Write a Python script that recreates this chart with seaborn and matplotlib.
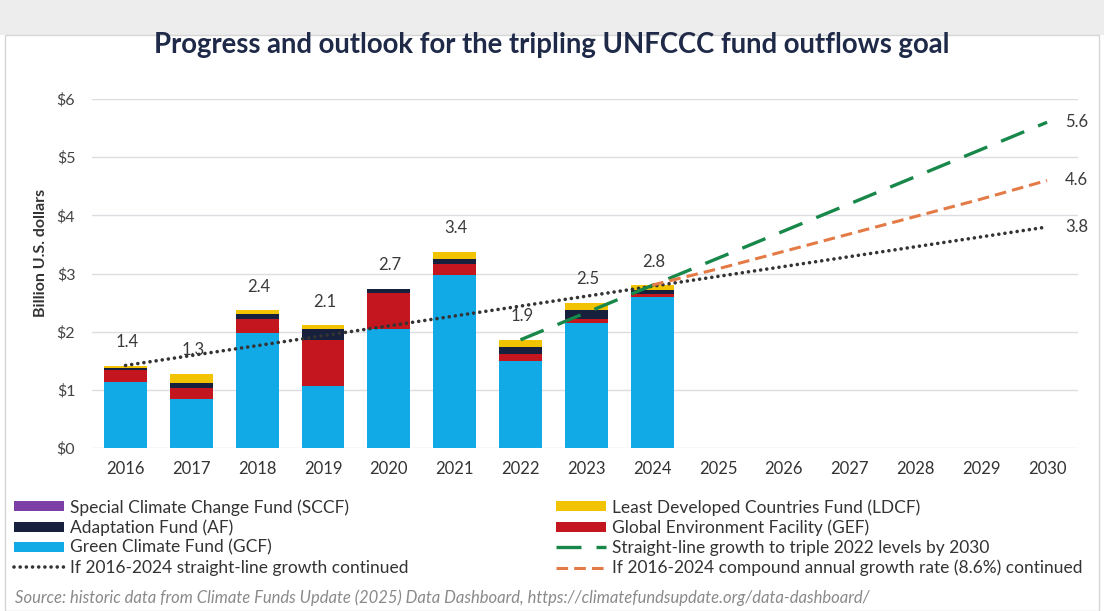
import numpy as np
import pandas as pd
import matplotlib.pyplot as plt
from matplotlib.patches import Patch, Rectangle
from matplotlib.lines import Line2D
import seaborn as sns

sns.set_theme(style="whitegrid")
plt.rcParams['font.family'] = ['Lato', 'DejaVu Sans']

# yearly outflows by fund, billion USD
years = [2016, 2017, 2018, 2019, 2020, 2021, 2022, 2023, 2024]
gcf = [1.14, 0.85, 1.97, 1.07, 2.05, 2.97, 1.50, 2.15, 2.60]
gef = [0.20, 0.18, 0.25, 0.79, 0.61, 0.20, 0.12, 0.07, 0.04]
af = [0.04, 0.09, 0.08, 0.19, 0.07, 0.08, 0.12, 0.15, 0.07]
ldcf = [0.03, 0.16, 0.07, 0.06, 0.01, 0.12, 0.12, 0.13, 0.09]
sccf = [0.00, 0.00, 0.00, 0.00, 0.00, 0.00, 0.00, 0.00, 0.00]
totals = ["1.4", "1.3", "2.4", "2.1", "2.7", "3.4", "1.9", "2.5", "2.8"]

# projections
linear_years = [2016, 2030]
linear_vals = [1.42, 3.80]
triple_years = [2022, 2030]
triple_vals = [1.86, 5.60]
cagr_years = [2024, 2025, 2026, 2027, 2028, 2029, 2030]
cagr_vals = [2.80, 3.08, 3.38, 3.68, 3.98, 4.28, 4.60]
end_labels = ["5.6", "4.6", "3.8"]

tick_years = list(range(2016, 2031))
tick_labels = ["$0", "$1", "$2", "$3", "$4", "$5", "$6"]

funds = ["Special Climate Change Fund (SCCF)", "Least Developed Countries Fund (LDCF)",
         "Adaptation Fund (AF)", "Global Environment Facility (GEF)", "Green Climate Fund (GCF)"]
colors = {funds[0]: "#7b3fa6", funds[1]: "#f2c300", funds[2]: "#17203d",
          funds[3]: "#c3161f", funds[4]: "#11a9e6"}
green = "#17874a"
orange = "#e47b46"
dotc = "#333333"

df = pd.DataFrame({
    "year": years * 5,
    "fund": [funds[0]] * 9 + [funds[1]] * 9 + [funds[2]] * 9 + [funds[3]] * 9 + [funds[4]] * 9,
    "value": sccf + ldcf + af + gef + gcf,
})

fig = plt.figure(figsize=(11.04, 6.11), dpi=100)
fig.patch.set_facecolor("white")
fig.patches.append(Rectangle((0, 1 - 35 / 611), 1, 35 / 611, transform=fig.transFigure,
                             facecolor="#ededed", edgecolor="none", zorder=-2))
fig.patches.append(Rectangle((5 / 1104, 0), 1094 / 1104, 1 - 35 / 611, transform=fig.transFigure,
                             facecolor="white", edgecolor="#d6d6d6", lw=1, zorder=-1))

ax = fig.add_axes([92 / 1104, 1 - 448 / 611, 986 / 1104, 349 / 611])
ax.set_zorder(1)
ax.set_facecolor("none")

sns.histplot(data=df, x="year", weights="value", hue="fund", hue_order=funds,
             multiple="stack", discrete=True, shrink=0.65, palette=colors,
             alpha=1, edgecolor="none", linewidth=0, legend=False, ax=ax, zorder=2)

sns.lineplot(x=linear_years, y=linear_vals, color=dotc, lw=2.6,
             linestyle=(0, (0.01, 1.7)), dash_capstyle="round", ax=ax, zorder=4)
sns.lineplot(x=triple_years, y=triple_vals, color=green, lw=2.4,
             linestyle=(0, (7.5, 4.5)), ax=ax, zorder=5)
sns.lineplot(x=cagr_years, y=cagr_vals, color=orange, lw=2.2,
             linestyle=(0, (3.8, 2.0)), ax=ax, zorder=5)

stack_top = np.array(gcf) + np.array(gef) + np.array(af) + np.array(ldcf) + np.array(sccf)
for yr, top, lab in zip(years, stack_top, totals):
    ax.annotate(lab, (yr, top), xytext=(1, 17), textcoords="offset points",
                ha="center", va="center", fontsize=12, color="#3a3a3a", zorder=6)

for val, lab in zip([triple_vals[-1], cagr_vals[-1], linear_vals[-1]], end_labels):
    ax.annotate(lab, (2030, val), xytext=(13, 0), textcoords="offset points",
                ha="left", va="center", fontsize=12, color="#3a3a3a",
                annotation_clip=False)

ax.set_xlim(2015.49, 2030.47)
ax.set_ylim(0, 6)
ax.set_xticks(tick_years)
ax.set_xticklabels([str(y) for y in tick_years], fontsize=12, color="#333333")
ax.set_yticks(range(7))
ax.set_yticklabels(tick_labels, fontsize=11.5, color="#444444")
ax.tick_params(axis="x", pad=9, length=0)
ax.tick_params(axis="y", pad=12, length=0)
ax.grid(axis="x", visible=False)
ax.grid(axis="y", color="#dcdce2", lw=1)
ax.set_axisbelow(True)
for s in ax.spines.values():
    s.set_visible(False)
ax.set_xlabel("")
ax.set_ylabel("Billion U.S. dollars", fontsize=11.5, fontweight="bold", color="#333333")
ax.yaxis.set_label_coords(-0.045, 0.56)

fig.text(0.5, 1 - 45 / 611, "Progress and outlook for the tripling UNFCCC fund outflows goal",
         ha="center", va="center", fontsize=19.8, fontweight="bold", color="#1f2a48")

def patch(c):
    return Patch(facecolor=c, edgecolor="none")

left_handles = [patch(colors[funds[0]]), patch(colors[funds[2]]), patch(colors[funds[4]]),
                Line2D([], [], color=dotc, lw=2.6, linestyle=(0, (0.01, 1.7)), dash_capstyle="round")]
left_labels = [funds[0], funds[2], funds[4], "If 2016-2024 straight-line growth continued"]
right_handles = [patch(colors[funds[1]]), patch(colors[funds[3]]),
                 Line2D([], [], color=green, lw=2.4, linestyle=(0, (7.5, 4.5))),
                 Line2D([], [], color=orange, lw=2.2, linestyle=(0, (3.8, 2.0)))]
right_labels = [funds[1], funds[3], "Straight-line growth to triple 2022 levels by 2030",
                "If 2016-2024 compound annual growth rate (8.6%) continued"]

leg_kw = dict(loc="upper left", frameon=False, borderpad=0, borderaxespad=0,
              fontsize=12.5, handlelength=2.9, handleheight=0.5, handletextpad=0.3,
              labelspacing=0.22, labelcolor="#333333")
fig.legend(left_handles, left_labels, bbox_to_anchor=(14 / 1104, 1 - 499 / 611), **leg_kw)
fig.legend(right_handles, right_labels, bbox_to_anchor=(556 / 1104, 1 - 499 / 611), **leg_kw)

fig.text(15 / 1104, 1 - 598 / 611,
         "Source: historic data from Climate Funds Update (2025) Data Dashboard, "
         "https://climatefundsupdate.org/data-dashboard/",
         ha="left", va="center", fontsize=12, style="italic", color="#8a8a8a")

fig.savefig("out.png", dpi=100)
